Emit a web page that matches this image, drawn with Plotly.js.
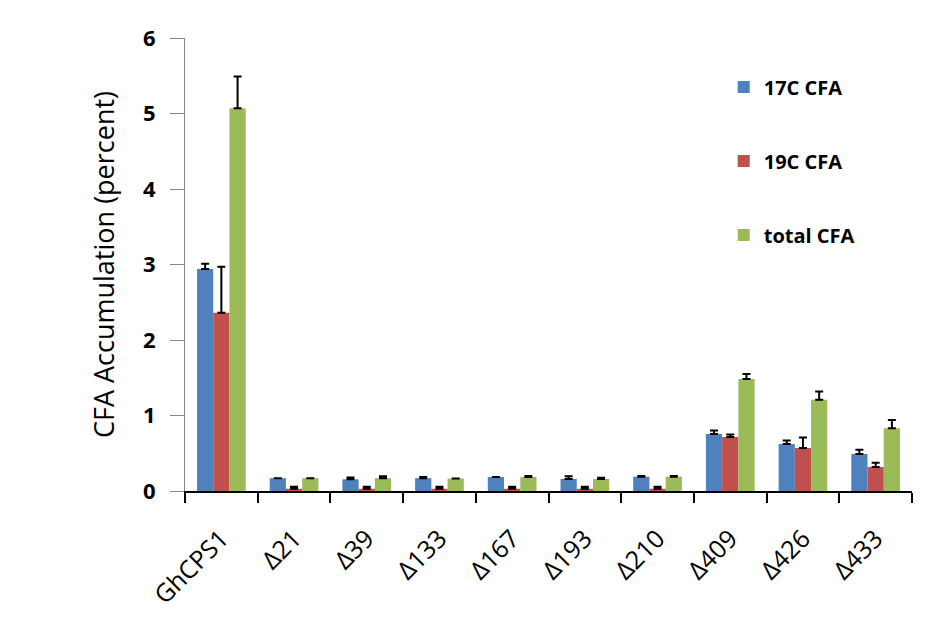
<!DOCTYPE html>
<html>
<head>
<meta charset="utf-8">
<script src="https://cdn.plot.ly/plotly-3.0.1.min.js"></script>
<style>html,body{margin:0;padding:0;background:#fff;}#chart{width:936px;height:625px;}</style>
</head>
<body>
<div id="chart"></div>
<script>
const categories = ["GhCPS1", "Δ21", "Δ39", "Δ133", "Δ167", "Δ193", "Δ210", "Δ409", "Δ426", "Δ433"];
const c17 = [2.94, 0.17, 0.155, 0.17, 0.186, 0.16, 0.19, 0.756, 0.623, 0.49];
const c17err = [0.07, 0.0, 0.025, 0.015, 0.0, 0.035, 0.01, 0.045, 0.045, 0.058];
const c19 = [2.36, 0.03, 0.03, 0.03, 0.03, 0.03, 0.03, 0.716, 0.57, 0.318];
const c19err = [0.61, 0.027, 0.025, 0.025, 0.025, 0.025, 0.025, 0.031, 0.137, 0.057];
const total = [5.07, 0.17, 0.17, 0.165, 0.186, 0.16, 0.19, 1.485, 1.207, 0.83];
const totalerr = [0.42, 0.0, 0.025, 0.0, 0.014, 0.015, 0.01, 0.065, 0.11, 0.11];
const seriesNames = ["17C CFA", "19C CFA", "total CFA"];
const colors = ["#4F81BD", "#C0504D", "#9BBB59"];

const vals = [c17, c19, total];
const errs = [c17err, c19err, totalerr];
const zeros = categories.map(() => 0);
const traces = vals.map((v, i) => ({
  type: "bar",
  name: seriesNames[i],
  x: categories,
  y: v,
  legendgroup: "g" + i,
  marker: {color: colors[i], line: {width: 0}},
  error_y: {type: "data", symmetric: false, array: errs[i], arrayminus: zeros,
            color: "#000", thickness: 2, width: 4}
}));

const FONT = "'Open Sans', Lato, sans-serif";
const layout = {
  width: 936, height: 625,
  margin: {l: 185, r: 24, t: 38, b: 134},
  paper_bgcolor: "#fff", plot_bgcolor: "#fff",
  font: {family: FONT, color: "#000"},
  barmode: "group",
  bargap: 0.33, bargroupgap: 0,
  showlegend: true,
  legend: {x: 0.741, y: 0.935, xanchor: "left", yanchor: "top",
           traceorder: "grouped", tracegroupgap: 45,
           font: {size: 20, weight: "bold", family: FONT},
           bgcolor: "rgba(0,0,0,0)"},
  xaxis: {
    type: "category",
    showline: true, linecolor: "#000", linewidth: 2,
    ticks: "outside", tickson: "boundaries", ticklen: 10, tickwidth: 2, tickcolor: "#000",
    tickangle: -45, tickfont: {size: 25}, ticklabelstandoff: 21,
    showgrid: false, zeroline: false
  },
  yaxis: {
    range: [0, 6], dtick: 1, tick0: 0,
    showline: true, linecolor: "#888", linewidth: 1,
    ticks: "outside", ticklen: 14, tickcolor: "#888", tickwidth: 1,
    tickfont: {size: 22, weight: "bold"}, ticklabelstandoff: 10,
    showgrid: false, zeroline: false,
    title: {text: "CFA Accumulation (percent)", font: {size: 27}, standoff: 20}
  }
};

Plotly.newPlot("chart", traces, layout, {displayModeBar: false, staticPlot: true});
</script>
</body>
</html>
